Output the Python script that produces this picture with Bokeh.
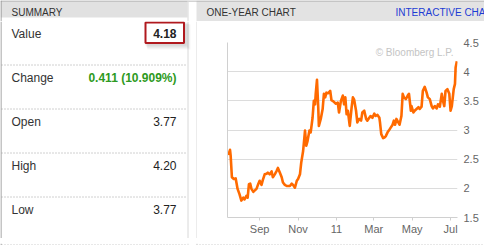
import pandas as pd
from bokeh.plotting import figure
from bokeh.layouts import row, column
from bokeh.models import Range1d, FixedTicker, LinearAxis, Label
from bokeh.core.properties import value
from bokeh.embed import file_html
from bokeh.resources import INLINE

FONT = "Liberation Sans"

# ---------------- data ----------------
summary_title = "SUMMARY"
summary_labels = ["Value", "Change", "Open", "High", "Low"]
summary_values = ["4.18", "0.411 (10.909%)", "3.77", "4.20", "3.77"]
chart_title = "ONE-YEAR CHART"
link_text = "INTERACTIVE CHART"
watermark = "\u00a9 Bloomberg L.P."

dates = [
    "2010-07-12", "2010-07-14", "2010-07-16", "2010-07-17", "2010-07-19", "2010-07-22",
    "2010-07-25", "2010-07-28", "2010-07-31", "2010-08-03", "2010-08-06", "2010-08-08",
    "2010-08-11", "2010-08-13", "2010-08-15", "2010-08-17", "2010-08-19", "2010-08-22",
    "2010-08-24", "2010-08-27", "2010-08-30", "2010-09-01", "2010-09-04", "2010-09-06",
    "2010-09-09", "2010-09-12", "2010-09-14", "2010-09-17", "2010-09-20", "2010-09-22",
    "2010-09-25", "2010-09-28", "2010-09-30", "2010-10-03", "2010-10-06", "2010-10-08",
    "2010-10-11", "2010-10-14", "2010-10-16", "2010-10-19", "2010-10-22", "2010-10-24",
    "2010-10-27", "2010-10-30", "2010-11-01", "2010-11-04", "2010-11-06", "2010-11-09",
    "2010-11-11", "2010-11-12", "2010-11-14", "2010-11-16", "2010-11-19", "2010-11-21",
    "2010-11-24", "2010-11-26", "2010-11-28", "2010-11-29", "2010-12-01", "2010-12-03",
    "2010-12-04", "2010-12-07", "2010-12-10", "2010-12-12", "2010-12-14", "2010-12-16",
    "2010-12-19", "2010-12-22", "2010-12-24", "2010-12-27", "2010-12-31", "2011-01-03",
    "2011-01-05", "2011-01-08", "2011-01-11", "2011-01-13", "2011-01-15", "2011-01-17",
    "2011-01-19", "2011-01-22", "2011-01-25", "2011-01-27", "2011-01-29", "2011-02-01",
    "2011-02-03", "2011-02-06", "2011-02-09", "2011-02-11", "2011-02-14", "2011-02-17",
    "2011-02-19", "2011-02-22", "2011-02-24", "2011-02-27", "2011-03-02", "2011-03-04",
    "2011-03-07", "2011-03-10", "2011-03-11", "2011-03-13", "2011-03-16", "2011-03-18",
    "2011-03-20", "2011-03-23", "2011-03-25", "2011-03-28", "2011-03-31", "2011-04-02",
    "2011-04-04", "2011-04-06", "2011-04-09", "2011-04-11", "2011-04-14", "2011-04-16",
    "2011-04-18", "2011-04-21", "2011-04-24", "2011-04-26", "2011-04-29", "2011-04-30",
    "2011-05-03", "2011-05-05", "2011-05-08", "2011-05-11", "2011-05-13", "2011-05-16",
    "2011-05-18", "2011-05-21", "2011-05-24", "2011-05-26", "2011-05-29", "2011-06-01",
    "2011-06-03", "2011-06-06", "2011-06-09", "2011-06-11", "2011-06-14", "2011-06-17",
    "2011-06-19", "2011-06-21", "2011-06-23", "2011-06-26", "2011-06-29", "2011-07-01",
    "2011-07-03", "2011-07-06", "2011-07-08", "2011-07-09", "2011-07-11",
]
prices = [
    2.61, 2.59, 2.66, 2.56, 2.19, 2.16,
    2.17, 1.99, 1.90, 1.79, 1.84, 1.81,
    1.87, 1.84, 2.07, 2.08, 1.99, 1.94,
    1.96, 1.99, 2.08, 2.13, 2.06, 2.14,
    2.24, 2.25, 2.27, 2.24, 2.29, 2.19,
    2.24, 2.30, 2.35, 2.27, 2.19, 2.10,
    2.06, 2.04, 2.04, 2.04, 2.08, 2.06,
    2.01, 2.13, 2.16, 2.24, 2.44, 2.64,
    2.87, 2.99, 2.73, 2.81, 2.99, 2.96,
    3.21, 3.50, 3.44, 3.62, 3.86, 3.39,
    3.07, 3.19, 3.36, 3.62, 3.56, 3.64,
    3.63, 3.67, 3.51, 3.49, 3.45, 3.47,
    3.30, 3.50, 3.59, 3.44, 3.56, 3.27,
    3.33, 3.07, 3.39, 3.56, 3.52, 3.33,
    3.13, 3.19, 3.16, 3.30, 3.33, 3.19,
    3.16, 3.21, 3.24, 3.21, 3.28, 3.24,
    3.26, 3.21, 3.13, 2.93, 2.86, 2.87,
    2.89, 2.96, 2.99, 3.04, 3.09, 3.16,
    3.09, 3.19, 3.13, 3.09, 3.24, 3.62,
    3.56, 3.53, 3.59, 3.62, 3.33, 3.41,
    3.30, 3.33, 3.36, 3.39, 3.36, 3.40,
    3.67, 3.74, 3.64, 3.56, 3.53, 3.41,
    3.37, 3.41, 3.37, 3.44, 3.40, 3.62,
    3.50, 3.41, 3.67, 3.70, 3.62, 3.33,
    3.41, 3.70, 3.79, 4.07, 4.18,
]
x_start = "2010-07-12"
x_end = "2011-07-12"
x_tick_dates = ["2010-09-01", "2010-11-01", "2011-01-01", "2011-03-01", "2011-05-01", "2011-07-01"]
x_tick_labels = ["Sep", "Nov", "11", "Mar", "May", "Jul"]
y_ticks = [1.5, 2.0, 2.5, 3.0, 3.5, 4.0, 4.5]
y_tick_labels = ["1.5", "2", "2.5", "3", "3.5", "4", "4.5"]


def ms(d):
    return float(pd.Timestamp(d).value // 10**6)


def canvas(w, h, x0, y0):
    """A blank figure whose data space equals page pixels (y downwards)."""
    p = figure(width=w, height=h, x_range=Range1d(x0, x0 + w), y_range=Range1d(y0 + h, y0),
               toolbar_location=None, output_backend="svg", min_border=0,
               x_axis_type=None, y_axis_type=None)
    p.outline_line_color = None
    p.background_fill_color = "white"
    p.border_fill_color = "white"
    return p


BORDER_DARK = "#8c8c8c"
BORDER_LIGHT = "#d8d8d8"
DOTS = "#a0a0a0"

# ---------------- top strip: both panel headers ----------------
T = canvas(484, 21, 0, 0)
T.quad(left=0, right=187, top=0, bottom=17, fill_color="#e1e1e1", line_color=None)
T.quad(left=196, right=484, top=0, bottom=21, fill_color="#e3e3e3", line_color=None)
T.segment(x0=0, y0=0.5, x1=484, y1=0.5, line_color="#a8a8a8", line_width=1)
T.segment(x0=0.5, y0=0, x1=0.5, y1=21, line_color=BORDER_DARK, line_width=1)
T.segment(x0=187.5, y0=0, x1=187.5, y1=21, line_color=BORDER_LIGHT, line_width=1)
T.text(x=[11], y=[11.5], text=[summary_title], text_font=value(FONT),
       text_font_size="10px", text_color="#333333", text_baseline="middle")
T.text(x=[206], y=[11.5], text=[chart_title], text_font=value(FONT),
       text_font_size="10px", text_color="#333333", text_baseline="middle")
T.text(x=[395], y=[11.5], text=[link_text], text_font=value(FONT),
       text_font_size="10px", text_color="#1c3cd4", text_baseline="middle")

# ---------------- left summary body ----------------
L = canvas(197, 217, 0, 21)
L.segment(x0=0.5, y0=21, x1=0.5, y1=238, line_color=BORDER_DARK, line_width=1)
L.segment(x0=187.5, y0=21, x1=187.5, y1=238, line_color=BORDER_LIGHT, line_width=1)
L.segment(x0=196.5, y0=21, x1=196.5, y1=238, line_color=BORDER_LIGHT, line_width=1)
n = len(summary_labels)
sep_y = [64.5 + 44 * i for i in range(n - 1)]
L.segment(x0=[1] * len(sep_y), y0=sep_y, x1=[187] * len(sep_y), y1=sep_y,
          line_color=DOTS, line_width=1, line_dash="1 2")

# highlight box around the current value (with soft shadow)
for k in range(1, 6):
    L.quad(left=144 + k * 0.6, right=185 + k, top=21 + k * 0.6, bottom=44 + k,
           fill_color="black", fill_alpha=0.03, line_color=None)
L.quad(left=145, right=183.5, top=22, bottom=42.5, fill_color="white",
       line_color="#b0191e", line_width=2)

row_y = [33 + 44 * i for i in range(n)]
L.text(x=[11] * n, y=row_y, text=summary_labels, text_font=value(FONT),
       text_font_size="12px", text_color="#333333", text_baseline="middle")
L.text(x=[176], y=[row_y[0]], text=[summary_values[0]], text_font=value(FONT),
       text_font_size="12px", text_font_style="bold", text_color="#222222",
       text_align="right", text_baseline="middle")
L.text(x=[176], y=[row_y[1]], text=[summary_values[1]], text_font=value(FONT),
       text_font_size="12px", text_font_style="bold", text_color="#2e9a22",
       text_align="right", text_baseline="middle")
L.text(x=[176] * (n - 2), y=row_y[2:], text=summary_values[2:], text_font=value(FONT),
       text_font_size="12px", text_color="#222222",
       text_align="right", text_baseline="middle")

# ---------------- chart ----------------
C = figure(width=287, height=217, x_axis_type="datetime",
           x_range=Range1d(pd.Timestamp(x_start), pd.Timestamp(x_end)),
           y_range=Range1d(1.5, 4.5), y_axis_location="right",
           toolbar_location=None, output_backend="svg",
           min_border_left=30, min_border_right=27, min_border_top=21, min_border_bottom=21)
C.outline_line_color = None
C.background_fill_color = "white"
C.border_fill_color = "white"
C.xgrid.visible = False
C.ygrid.grid_line_color = "#dcdcdc"

xt = [ms(d) for d in x_tick_dates]
C.xaxis.ticker = FixedTicker(ticks=xt)
C.xaxis.major_label_overrides = {t: lab for t, lab in zip(xt, x_tick_labels)}
C.xaxis.minor_tick_line_color = None
C.xaxis.major_tick_line_color = "#d0d0d0"
C.xaxis.major_tick_in = 0
C.xaxis.major_tick_out = 3
C.xaxis.axis_line_color = "#d0d0d0"
C.xaxis.major_label_standoff = 2
C.xaxis.major_label_text_font = FONT
C.xaxis.major_label_text_font_size = "11px"
C.xaxis.major_label_text_color = "#666666"

C.yaxis.ticker = FixedTicker(ticks=y_ticks)
C.yaxis.major_label_overrides = {t: lab for t, lab in zip(y_ticks, y_tick_labels)}
C.yaxis.minor_tick_line_color = None
C.yaxis.major_tick_line_color = None
C.yaxis.major_tick_out = 0
C.yaxis.major_tick_in = 0
C.yaxis.axis_line_color = None
C.yaxis.major_label_standoff = 6
C.yaxis.major_label_text_font = FONT
C.yaxis.major_label_text_font_size = "11px"
C.yaxis.major_label_text_color = "#666666"

left_edge = LinearAxis(ticker=FixedTicker(ticks=[]), major_label_text_font_size="0px",
                       major_tick_line_color=None, minor_tick_line_color=None,
                       major_tick_out=0, major_tick_in=0,
                       axis_line_color="#d0d0d0", major_label_standoff=0)
C.add_layout(left_edge, "left")

C.line(x=pd.to_datetime(dates), y=prices, line_color="#ff6a00", line_width=2.6,
       line_join="round")

C.add_layout(Label(x=ms(x_end), y=4.33, x_offset=-4, text=watermark,
                   text_align="right", text_baseline="middle", text_font=FONT,
                   text_font_size="10px", text_color="#c4c4c4"))

# ---------------- bottom strip ----------------
B = canvas(484, 7, 0, 238)
B.segment(x0=[1, 196], y0=[239.5, 239.5], x1=[187, 484], y1=[239.5, 239.5],
          line_color=DOTS, line_width=1, line_dash="1 2")
B.segment(x0=0.5, y0=238, x1=0.5, y1=245, line_color=BORDER_DARK, line_width=1)
B.segment(x0=[187.5, 196.5], y0=[238, 238], x1=[187.5, 196.5], y1=[240, 240],
          line_color=BORDER_LIGHT, line_width=1)

layout = column(row(T), row(column(L), column(C)), row(B))
open("out.html", "w").write(file_html(layout, INLINE))
